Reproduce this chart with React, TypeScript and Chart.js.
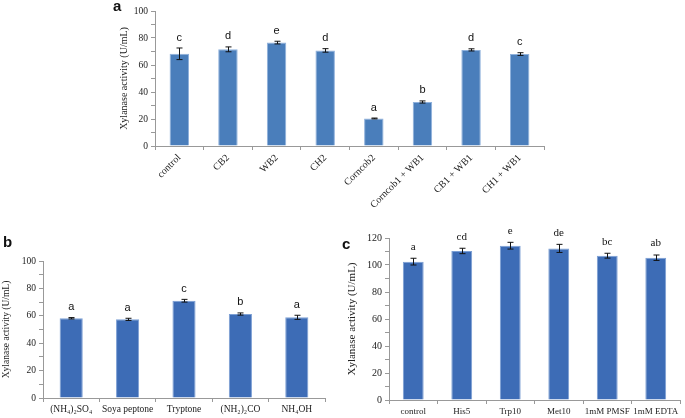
import React, { useEffect, useRef } from 'react';
import { Chart, registerables } from 'chart.js';
Chart.register(...registerables);

// Panel a
const catsA = ['control', 'CB2', 'WB2', 'CH2', 'Corncob2', 'Corncob1 + WB1', 'CB1 + WB1', 'CH1 + WB1'];
const valsA = [68.3, 71.6, 76.6, 70.8, 20.4, 32.6, 71.2, 68.1];
const errsA = [4.3, 1.8, 1.0, 1.3, 0.3, 0.8, 0.8, 1.0];
const lettersA = ['c', 'd', 'e', 'd', 'a', 'b', 'd', 'c'];

// Panel b
const catsB = ['(NH₄)₂SO₄', 'Soya peptone', 'Tryptone', '(NH₂)₂CO', 'NH₄OH'];
const valsB = [58.2, 57.4, 71.0, 61.3, 58.9];
const errsB = [0.5, 0.8, 1.0, 0.8, 1.5];
const lettersB = ['a', 'a', 'c', 'b', 'a'];

// Panel c
const catsC = ['control', 'His5', 'Trp10', 'Met10', '1mM PMSF', '1mM EDTA'];
const valsC = [102.5, 110.4, 114.3, 112.3, 106.9, 105.4];
const errsC = [2.5, 2.0, 2.5, 3.0, 1.8, 2.0];
const lettersC = ['a', 'cd', 'e', 'de', 'bc', 'ab'];

const yTitle = 'Xylanase activity (U/mL)';

const errPlugin = {
  id: 'errbars',
  afterDatasetsDraw(chart: any, _a: any, opts: any) {
    const { ctx } = chart;
    const meta = chart.getDatasetMeta(0);
    const ys = chart.scales.y;
    const vals = chart.data.datasets[0].data;
    ctx.save();
    ctx.strokeStyle = '#111';
    ctx.lineWidth = 1;
    meta.data.forEach((bar: any, i: number) => {
      const v = vals[i];
      const e = opts.errors[i];
      const x = Math.round(bar.x) + 0.5;
      const yt = ys.getPixelForValue(v + e);
      const yb = ys.getPixelForValue(v - e);
      ctx.beginPath();
      ctx.moveTo(x, yt);
      ctx.lineTo(x, yb);
      ctx.moveTo(x - 3, yt);
      ctx.lineTo(x + 3, yt);
      ctx.moveTo(x - 3, yb);
      ctx.lineTo(x + 3, yb);
      ctx.stroke();
      ctx.fillStyle = '#111';
      ctx.font = opts.font;
      ctx.textAlign = 'center';
      ctx.textBaseline = 'bottom';
      ctx.fillText(opts.letters[i], bar.x, yt - opts.gap);
    });
    ctx.restore();
  },
};

type PanelProps = {
  left: number; top: number; width: number; height: number;
  labels: string[]; values: number[]; errors: number[]; letters: string[];
  letterFont: string; gap: number; color: string; border: string;
  yMax: number; padL: number; padR: number; padT: number; yWidth: number; xHeight: number;
  rotate: number; barPct: number; tickSize: number; xSize: number; titleSize: number;
};

function Panel(p: PanelProps) {
  const ref = useRef<HTMLCanvasElement>(null);
  useEffect(() => {
    const chart = new Chart(ref.current!, {
      type: 'bar',
      data: {
        labels: p.labels,
        datasets: [{
          data: p.values,
          backgroundColor: p.color,
          borderColor: p.border,
          borderWidth: 1,
          barPercentage: p.barPct,
          categoryPercentage: 1,
        }],
      },
      options: {
        responsive: false,
        animation: false,
        layout: { padding: { left: p.padL, right: p.padR, top: p.padT, bottom: 0 } },
        plugins: {
          legend: { display: false },
          tooltip: { enabled: false },
          errbars: { errors: p.errors, letters: p.letters, font: p.letterFont, gap: p.gap },
        } as any,
        scales: {
          x: {
            afterFit: (s: any) => { s.height = p.xHeight; },
            grid: { display: true, drawOnChartArea: false, drawTicks: true, tickLength: 4, color: '#999', offset: true },
            border: { display: true, color: '#999' },
            ticks: {
              autoSkip: false,
              maxRotation: p.rotate,
              minRotation: p.rotate,
              padding: 2,
              color: '#222',
              font: { family: 'Liberation Serif', size: p.xSize },
            },
          },
          y: {
            min: 0,
            max: p.yMax,
            afterFit: (s: any) => { s.width = p.yWidth; },
            grid: { display: true, drawOnChartArea: false, drawTicks: true, tickLength: 4, color: '#999' },
            border: { display: true, color: '#999' },
            ticks: {
              stepSize: 10,
              autoSkip: false,
              padding: 3,
              color: '#222',
              font: { family: 'Liberation Serif', size: p.tickSize },
              callback: (v: any) => (Number(v) % 20 === 0 ? String(v) : ''),
            },
            title: {
              display: true,
              text: yTitle,
              color: '#222',
              padding: { top: 1, bottom: 1 },
              font: { family: 'Liberation Serif', size: p.titleSize },
            },
          },
        },
      },
      plugins: [errPlugin as any],
    });
    return () => chart.destroy();
  }, []);
  return (
    <canvas
      ref={ref}
      width={p.width}
      height={p.height}
      style={{ position: 'absolute', left: p.left, top: p.top, width: p.width, height: p.height }}
    />
  );
}

const labelStyle = (left: number, top: number): React.CSSProperties => ({
  position: 'absolute', left, top, fontFamily: 'Liberation Sans, Arial, sans-serif',
  fontWeight: 'bold', fontSize: 15, lineHeight: '15px', color: '#111',
});

export default function App() {
  return (
    <div style={{ position: 'fixed', left: 0, top: 0, width: 685, height: 418, background: '#fff', overflow: 'hidden' }}>
      <Panel left={100} top={0} width={460} height={225}
        labels={catsA} values={valsA} errors={errsA} letters={lettersA}
        letterFont="11px 'Liberation Sans'" gap={5} color="#4a7ebb" border="#8fb1dc"
        yMax={100} padL={17} padR={16} padT={11} yWidth={38} xHeight={79}
        rotate={45} barPct={0.4} tickSize={9.5} xSize={10} titleSize={10} />
      <Panel left={0} top={225} width={340} height={193}
        labels={catsB} values={valsB} errors={errsB} letters={lettersB}
        letterFont="11px 'Liberation Sans'" gap={5} color="#3d6cb6" border="#7c9fd4"
        yMax={100} padL={0} padR={15} padT={36} yWidth={43} xHeight={20}
        rotate={0} barPct={0.41} tickSize={9.5} xSize={9.5} titleSize={9.5} />
      <Panel left={340} top={225} width={345} height={193}
        labels={catsC} values={valsC} errors={errsC} letters={lettersC}
        letterFont="11px 'Liberation Serif'" gap={6} color="#3d6cb6" border="#7c9fd4"
        yMax={120} padL={5} padR={5} padT={13} yWidth={44} xHeight={18}
        rotate={0} barPct={0.43} tickSize={10} xSize={9} titleSize={11} />
      <div style={labelStyle(113, -2)}>a</div>
      <div style={labelStyle(3, 234)}>b</div>
      <div style={labelStyle(342, 236)}>c</div>
    </div>
  );
}
